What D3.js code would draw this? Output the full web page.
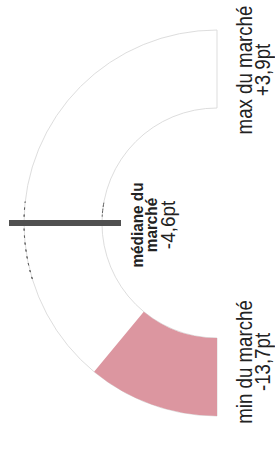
<!DOCTYPE html>
<html>
<head>
<meta charset="utf-8">
<script src="https://cdn.jsdelivr.net/npm/d3@7"></script>
<style>
  html, body { margin: 0; padding: 0; background: #fff; }
  svg { display: block; }
  text { font-family: "Liberation Sans", Arial, sans-serif; fill: #222; }
</style>
</head>
<body>
<svg id="chart" width="275" height="452"></svg>
<script>
// ---- data ----
const marketMin = -13.7;
const marketMedian = -4.6;
const marketMax = 3.9;
const companyValue = -9.7;
const labelsMin = ["min du marché", "-13,7pt"];
const labelsMax = ["max du marché", "+3,9pt"];
const labelsMedian = ["médiane du", "marché", "-4,6pt"];

// ---- layout ----
const cx = 217, cy = 223;
const rOuter = 193, rInner = 115;

const svg = d3.select("#chart");

// piecewise scale: min -> one end, median -> middle, max -> other end
const angle = d3.scaleLinear()
  .domain([marketMin, marketMedian, marketMax])
  .range([-Math.PI / 2, 0, Math.PI / 2]);

const g = svg.append("g").attr("transform", `translate(${cx},${cy}) rotate(-90)`);

const arc = d3.arc().innerRadius(rInner).outerRadius(rOuter);

// background band
g.append("path")
  .attr("d", arc({startAngle: angle(marketMin), endAngle: angle(marketMax)}))
  .attr("fill", "#ffffff")
  .attr("stroke", "#d9d9d9")
  .attr("stroke-width", 0.9);

// value band
g.append("path")
  .attr("d", arc({startAngle: angle(marketMin), endAngle: angle(companyValue)}))
  .attr("fill", "#dc96a0");

// faint dashed marks around median on arcs
g.append("path")
  .attr("d", d3.arc().innerRadius(rOuter).outerRadius(rOuter)({startAngle: angle(-6.3), endAngle: angle(-4.0)}))
  .attr("fill", "none").attr("stroke", "#555").attr("stroke-width", 1).attr("stroke-dasharray", "2 5");
g.append("path")
  .attr("d", d3.arc().innerRadius(rInner).outerRadius(rInner)({startAngle: angle(-4.3), endAngle: angle(-3.6)}))
  .attr("fill", "none").attr("stroke", "#555").attr("stroke-width", 1).attr("stroke-dasharray", "2 4");

// needle at median
const a = angle(marketMedian);
const r0 = 96, r1 = 208;
g.append("line")
  .attr("x1", r0 * Math.sin(a)).attr("y1", -r0 * Math.cos(a))
  .attr("x2", r1 * Math.sin(a)).attr("y2", -r1 * Math.cos(a))
  .attr("stroke", "#505050")
  .attr("stroke-width", 6);

// ---- labels (rotated) ----
function rotLabel(x, y, lines, opts) {
  const t = svg.append("g").attr("transform", `translate(${x},${y}) rotate(-90) scale(${opts.sx},1)`);
  lines.forEach((s, i) => {
    t.append("text")
      .attr("x", 0)
      .attr("y", opts.dy[i])
      .attr("text-anchor", "middle")
      .attr("font-size", opts.size[i])
      .attr("font-weight", opts.weight[i])
      .text(s);
  });
}

rotLabel(252, 70, labelsMax, {sx: 0.85, dy: [0, 18], size: [22, 22], weight: [400, 400]});
rotLabel(252, 362, labelsMin, {sx: 0.85, dy: [0, 18], size: [22, 22], weight: [400, 400]});
rotLabel(143, 225, labelsMedian, {sx: 0.9, dy: [0, 14, 32], size: [17, 17, 21], weight: [700, 700, 400]});
</script>
</body>
</html>
